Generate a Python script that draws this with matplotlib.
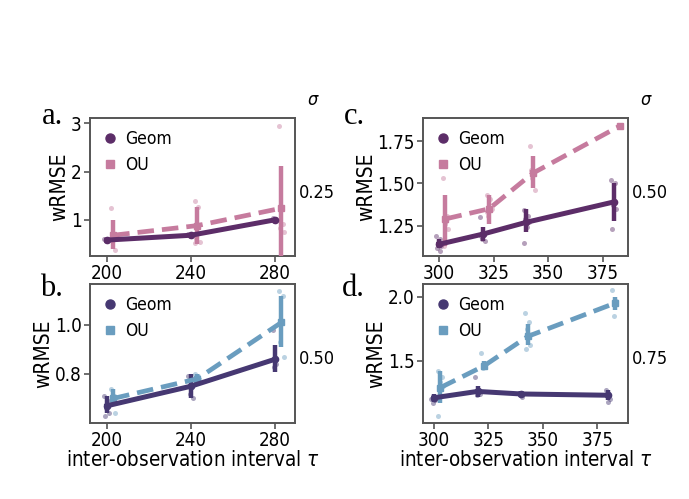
import numpy as np
import matplotlib.pyplot as plt
from matplotlib.lines import Line2D

plt.rcParams['font.family'] = 'DejaVu Sans'
plt.rcParams['font.stretch'] = 'condensed'

# ---- data ----
# panel a (sigma 0.25)
a_tau = [200, 240, 280]
a_geom = [0.58, 0.68, 1.00]
a_geom_lo = [0.56, 0.66, 0.97]
a_geom_hi = [0.60, 0.71, 1.03]
a_ou = [0.68, 0.88, 1.24]
a_ou_lo = [0.40, 0.50, 0.05]
a_ou_hi = [1.00, 1.27, 2.12]
a_geom_pts = [[0.60, 0.58, 0.57], [0.70, 0.68, 0.67], [1.03, 1.00, 0.98]]
a_ou_pts = [[1.25, 0.70, 0.62, 0.37], [1.38, 1.27, 0.60, 0.55, 0.52], [2.95, 0.92, 0.82, 0.74, 1.00]]

# panel b (sigma 0.50)
b_tau = [200, 240, 280]
b_geom = [0.67, 0.75, 0.86]
b_geom_lo = [0.64, 0.70, 0.81]
b_geom_hi = [0.71, 0.80, 0.92]
b_ou = [0.70, 0.78, 1.01]
b_ou_lo = [0.67, 0.76, 0.91]
b_ou_hi = [0.74, 0.80, 1.12]
b_geom_pts = [[0.71, 0.69, 0.66, 0.64, 0.63], [0.79, 0.78, 0.72, 0.70], [0.98, 0.84, 0.83]]
b_ou_pts = [[0.74, 0.71, 0.69, 0.64], [0.80, 0.79, 0.78, 0.77], [1.14, 1.12, 0.93, 0.87]]

# panel c (sigma 0.50)
c_tau = [300, 320, 340, 380]
c_geom = [1.14, 1.20, 1.27, 1.39]
c_geom_lo = [1.12, 1.16, 1.21, 1.28]
c_geom_hi = [1.17, 1.24, 1.35, 1.50]
c_ou = [1.29, 1.35, 1.56, 1.84]
c_ou_lo = [1.13, 1.26, 1.47, 1.835]
c_ou_hi = [1.43, 1.43, 1.66, 1.845]
c_geom_pts = [[1.19, 1.17, 1.15, 1.13, 1.12, 1.10, 1.14], [1.30, 1.20, 1.17, 1.16, 1.19],
              [1.34, 1.31, 1.29, 1.27, 1.15, 1.24], [1.52, 1.50, 1.37, 1.35, 1.23]]
c_ou_pts = [[1.53, 1.31, 1.26, 1.23, 1.13, 1.28], [1.43, 1.41, 1.31, 1.35, 1.33],
            [1.72, 1.56, 1.53, 1.46, 1.58], [1.84, 1.84]]

# panel d (sigma 0.75)
d_tau = [300, 320, 340, 380]
d_geom = [1.21, 1.26, 1.24, 1.23]
d_geom_lo = [1.18, 1.22, 1.22, 1.19]
d_geom_hi = [1.24, 1.30, 1.26, 1.27]
d_ou = [1.29, 1.46, 1.69, 1.95]
d_ou_lo = [1.17, 1.43, 1.62, 1.90]
d_ou_hi = [1.42, 1.50, 1.79, 2.00]
d_geom_pts = [[1.20, 1.19, 1.17, 1.22], [1.37, 1.27, 1.23, 1.24], [1.25, 1.22, 1.23], [1.27, 1.20, 1.18]]
d_ou_pts = [[1.42, 1.37, 1.33, 1.30, 1.07], [1.56, 1.45, 1.44], [1.87, 1.80, 1.75, 1.62, 1.59], [2.05, 1.97, 1.85]]

purple = '#5c2d68'
pink = '#c67b9e'
indigo = '#463872'
steel = '#6a9dbf'

fig = plt.figure(figsize=(6.89, 4.99), dpi=100)
W, H = 689, 499


def add_ax(l, r, t, b):
    return fig.add_axes([l / W, 1 - b / H, (r - l) / W, (b - t) / H])


def panel(ax, tau, gm, glo, ghi, om, olo, ohi, gpts, opts, cg, co, shift):
    tau = np.array(tau, dtype=float)
    ot = tau + shift
    jit = [-1.2, 0.6, -0.4, 1.1, -0.9, 0.3, 1.4]
    for x, pts in zip(tau, gpts):
        ax.scatter([x + jit[k] for k in range(len(pts))], pts, s=13, color=cg, alpha=0.45, lw=0, zorder=2)
    for x, pts in zip(ot, opts):
        ax.scatter([x + jit[k] for k in range(len(pts))], pts, s=13, color=co, alpha=0.45, lw=0, zorder=2)
    ax.vlines(tau, glo, ghi, color=cg, lw=3.2, zorder=4)
    ax.vlines(ot, olo, ohi, color=co, lw=3.2, zorder=3)
    ax.plot(tau, gm, color=cg, lw=3.6, marker='o', ms=4.5, zorder=5)
    ax.plot(ot, om, color=co, lw=3.4, ls=(0, (3.5, 1.7)), marker='s', ms=4.5, zorder=4)
    for s in ax.spines.values():
        s.set_color('#555555')
        s.set_linewidth(1.4)
    ax.tick_params(labelsize=13.5, color='#555555', length=4, width=1.2, pad=2)
    ax.set_ylabel('wRMSE', fontsize=15, labelpad=1)
    handles = [Line2D([], [], color=cg, marker='o', ls='none', ms=6.5),
               Line2D([], [], color=co, marker='s', ls='none', ms=5.5)]
    ax.legend(handles, ['Geom', 'OU'], loc='upper left', frameon=False, fontsize=12.5,
              handletextpad=0.4, handlelength=0.9, borderaxespad=0.3, labelspacing=0.45)


ax_a = add_ax(90, 295, 118, 256)
panel(ax_a, a_tau, a_geom, a_geom_lo, a_geom_hi, a_ou, a_ou_lo, a_ou_hi,
      a_geom_pts, a_ou_pts, purple, pink, 3)
ax_a.set_xlim(192, 289.5)
ax_a.set_ylim(0.25, 3.11)
ax_a.set_xticks(a_tau)
ax_a.set_yticks([1, 2, 3])

ax_b = add_ax(90, 295, 284, 423)
panel(ax_b, b_tau, b_geom, b_geom_lo, b_geom_hi, b_ou, b_ou_lo, b_ou_hi,
      b_geom_pts, b_ou_pts, indigo, steel, 3)
ax_b.set_xlim(192, 289.5)
ax_b.set_ylim(0.60, 1.167)
ax_b.set_xticks(b_tau)
ax_b.set_yticks([0.8, 1.0])
ax_b.set_xlabel(r'inter-observation interval $\tau$', fontsize=14.8, labelpad=0)

ax_c = add_ax(423, 628, 118, 256)
panel(ax_c, c_tau, c_geom, c_geom_lo, c_geom_hi, c_ou, c_ou_lo, c_ou_hi,
      c_geom_pts, c_ou_pts, purple, pink, 3)
ax_c.set_xlim(292.7, 386.6)
ax_c.set_ylim(1.071, 1.886)
ax_c.set_xticks([300, 325, 350, 375])
ax_c.set_yticks([1.25, 1.50, 1.75])

ax_d = add_ax(423, 628, 284, 423)
panel(ax_d, d_tau, d_geom, d_geom_lo, d_geom_hi, d_ou, d_ou_lo, d_ou_hi,
      d_geom_pts, d_ou_pts, indigo, steel, 3)
ax_d.set_xlim(295, 389)
ax_d.set_ylim(1.013, 2.10)
ax_d.set_xticks([300, 325, 350, 375])
ax_d.set_yticks([1.5, 2.0])
ax_d.set_xlabel(r'inter-observation interval $\tau$', fontsize=14.8, labelpad=0)

# panel letters (placed in figure pixels), sigma header and sigma values
for lab, px, py in [('a.', 63, 117), ('b.', 63, 288), ('c.', 365, 117), ('d.', 365, 288)]:
    fig.text(px / W, 1 - py / H, lab, fontsize=22, family='Liberation Serif',
             ha='right', va='center')
for ax in (ax_a, ax_c):
    ax.text(1.06, 1.13, r'$\sigma$', transform=ax.transAxes, fontsize=13, ha='left', va='center')
for ax, val in [(ax_a, '0.25'), (ax_b, '0.50'), (ax_c, '0.50'), (ax_d, '0.75')]:
    ax.text(1.02, 0.46, val, transform=ax.transAxes, fontsize=13, ha='left', va='center')

fig.savefig('out.png', dpi=100)
